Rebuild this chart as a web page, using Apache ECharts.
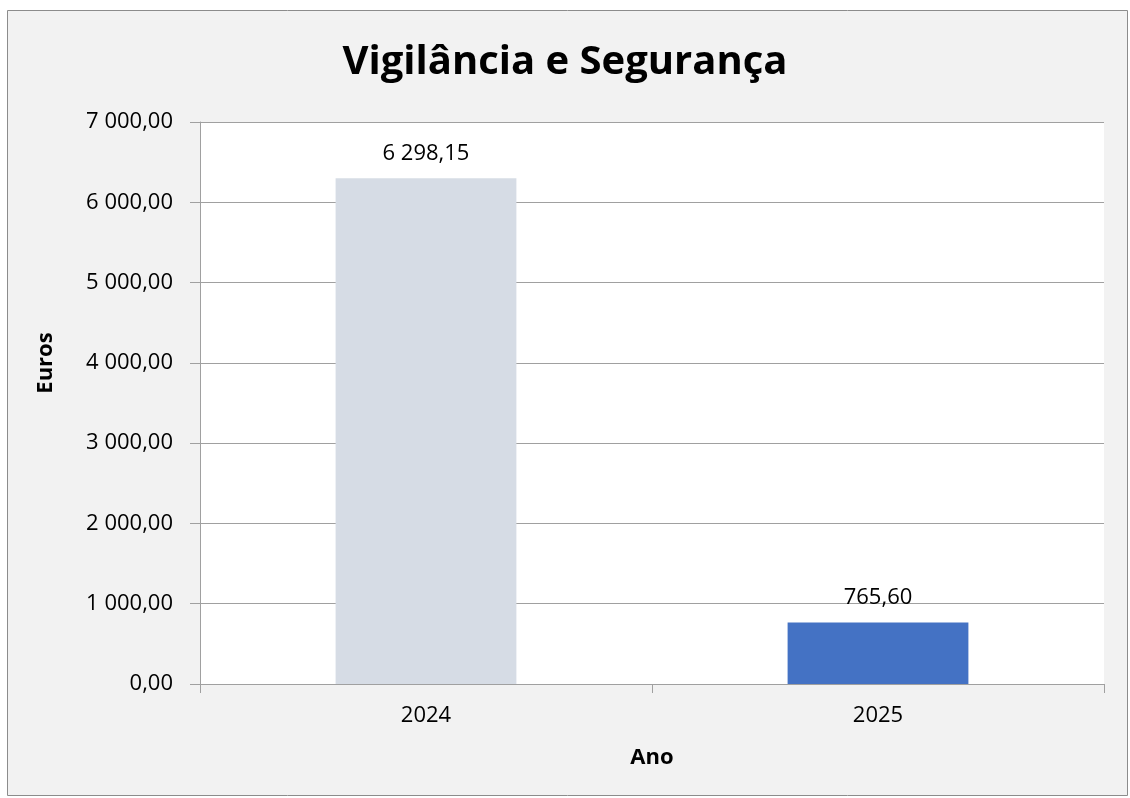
<!DOCTYPE html>
<html>
<head>
    <meta charset="utf-8">
    <title>Vigilância e Segurança</title>
    <script src="https://cdn.jsdelivr.net/npm/echarts@6/dist/echarts.min.js"></script>
    <style>
        html, body { margin: 0; padding: 0; background: #ffffff; }
        #chart { width: 1130px; height: 798px; }
    </style>
</head>
<body>
<div id="chart"></div>
<script>
    // dados do gráfico
    var anos = ['2024', '2025'];
    var valores = [6298.15, 765.60];
    var coresBarras = ['#d6dce5', '#4472c4'];
    var ticksY = [0, 1000, 2000, 3000, 4000, 5000, 6000, 7000];

    // formato português: espaço nos milhares, vírgula decimal
    function fmt(v) {
        var partes = Number(v).toFixed(2).split('.');
        var inteiro = partes[0].replace(/\B(?=(\d{3})+(?!\d))/g, ' ');
        return inteiro + ',' + partes[1];
    }

    var fonte = '"Open Sans", "Noto Sans", sans-serif';
    var myChart = echarts.init(document.getElementById('chart'));

    myChart.setOption({
        backgroundColor: '#ffffff',
        animation: false,
        graphic: [{
            type: 'rect',
            shape: { x: 7.5, y: 10.5, width: 1120, height: 785 },
            style: { fill: '#f2f2f2', stroke: '#8c8c8c', lineWidth: 1 },
            z: -10
        }, {
            // título do eixo Y (Euros)
            type: 'text',
            x: 46,
            y: 363,
            rotation: Math.PI / 2,
            style: {
                text: 'Euros',
                fontFamily: fonte,
                fontSize: 22,
                fontWeight: 'bold',
                fill: '#000',
                align: 'center',
                verticalAlign: 'middle'
            }
        }],
        title: {
            text: 'Vigilância e Segurança',
            left: 'center',
            top: 38,
            textStyle: { fontFamily: fonte, fontSize: 40, fontWeight: 'bold', color: '#000000' }
        },
        grid: {
            left: 200, right: 26, top: 122, bottom: 114,
            show: true, backgroundColor: '#ffffff', borderWidth: 0
        },
        xAxis: {
            type: 'category',
            data: anos,
            name: 'Ano',
            nameLocation: 'middle',
            nameGap: 63,
            nameTextStyle: { fontFamily: fonte, fontSize: 22, fontWeight: 'bold', color: '#000' },
            axisLine: { lineStyle: { color: '#a0a0a0', width: 1 } },
            axisTick: { show: true, alignWithLabel: false, length: 9, lineStyle: { color: '#a0a0a0' } },
            axisLabel: { fontFamily: fonte, fontSize: 22, color: '#000', margin: 21 }
        },
        yAxis: {
            type: 'value',
            min: ticksY[0],
            max: ticksY[ticksY.length - 1],
            interval: 1000,
            axisLine: { show: true, lineStyle: { color: '#a0a0a0', width: 1 } },
            axisTick: { show: true, length: 10, lineStyle: { color: '#a0a0a0' } },
            axisLabel: { fontFamily: fonte, fontSize: 22, color: '#000', margin: 27, formatter: fmt },
            splitLine: { lineStyle: { color: '#a0a0a0', width: 1 } }
        },
        series: [{
            type: 'bar',
            barWidth: '40%',
            data: valores.map(function (v, i) {
                return { value: v, itemStyle: { color: coresBarras[i] } };
            }),
            label: {
                show: true,
                position: 'top',
                distance: 14,
                fontFamily: fonte,
                fontSize: 22,
                color: '#000',
                formatter: function (p) { return fmt(p.value); }
            }
        }]
    });
</script>
</body>
</html>
